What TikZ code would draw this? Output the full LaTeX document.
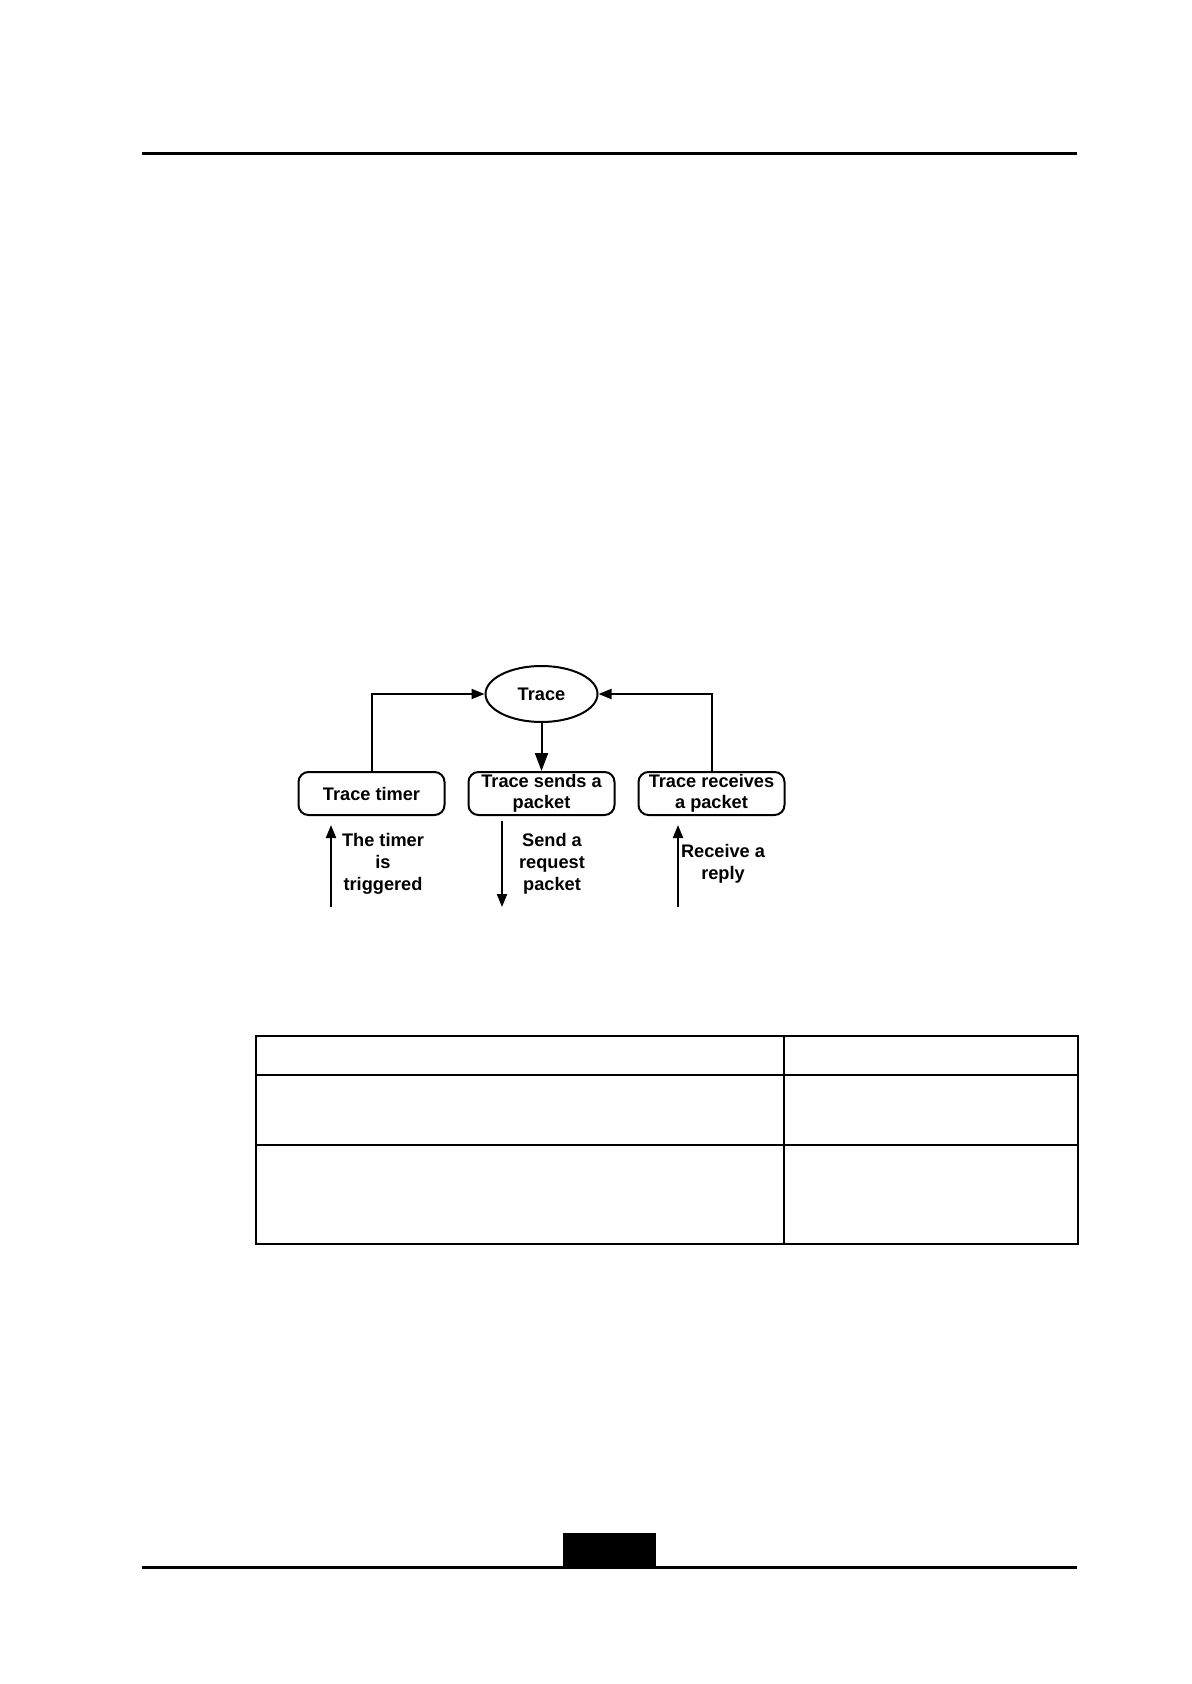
\documentclass[tikz,border=0pt]{standalone}
\usepackage{fontspec}
\setmainfont{Liberation Sans}
\usetikzlibrary{shapes.geometric, arrows.meta, positioning}

\begin{document}
\begin{tikzpicture}[
    x=0.5pt, y=-0.5pt,
    node distance=24pt,
    proc/.style={
        rectangle, draw, line width=1pt,
        rounded corners=5pt, minimum width=73pt, minimum height=21.5pt,
        inner sep=0pt, align=center, font=\fontsize{9.1}{10.7}\selectfont\bfseries
    },
    actor/.style={
        ellipse, draw, line width=1pt,
        minimum width=56pt, minimum height=28pt,
        inner sep=0pt, font=\fontsize{9.1}{10.7}\selectfont\bfseries
    },
    lbl/.style={align=center, inner sep=0pt, font=\fontsize{9.1}{11}\selectfont\bfseries},
    arrow/.style={-{Triangle[length=6.5pt,width=5pt]}, line width=1pt},
    bigarrow/.style={-{Triangle[length=9pt,width=6.5pt]}, line width=1pt},
    rule/.style={line width=1.5pt}
]
    \useasboundingbox (0,0) rectangle (1191,1684);

    % page rules
    \draw[rule] (142,153.6) -- (1077,153.6);
    \draw[rule] (142,1567) -- (1077,1567);
    \fill (563,1533) rectangle (656,1567);

    % diagram
    \node[actor] (trace) at (541.5,694) {Trace};
    \node[proc, below=24pt of trace] (sends) {Trace sends a\\packet};
    \node[proc, left=11pt of sends] (timer) {Trace timer};
    \node[proc, right=11pt of sends] (receives) {Trace receives\\a packet};

    \coordinate (timerend) at (331,907);
    \coordinate (sendend) at (502,907);
    \coordinate (recvend) at (678,907);

    \draw[arrow] (timer.north) |- (trace.west);
    \draw[arrow] (receives.north) |- (trace.east);
    \draw[bigarrow] (trace.south) -- (sends.north);

    \draw[arrow, shorten >=4.5pt] (timerend) -- (timerend |- timer.south);
    \draw[arrow, shorten <=2.5pt] (sendend |- sends.south) -- (sendend);
    \draw[arrow, shorten >=4.5pt] (recvend) -- (recvend |- receives.south);

    \node[lbl] (timertxt) at (383,864) {The timer\\is\\triggered};
    \node[lbl] (sendtxt) at (552,864) {Send a\\request\\packet};
    \node[lbl] (recvtxt) at (723,864) {Receive a\\reply};

    % table
    \draw[line width=1.1pt] (255.6,1036) rectangle (1078,1244);
    \draw[line width=1.1pt] (784,1036) -- (784,1244);
    \draw[line width=1.1pt] (255.6,1075) -- (1078,1075);
    \draw[line width=1.1pt] (255.6,1145) -- (1078,1145);
\end{tikzpicture}
\end{document}
